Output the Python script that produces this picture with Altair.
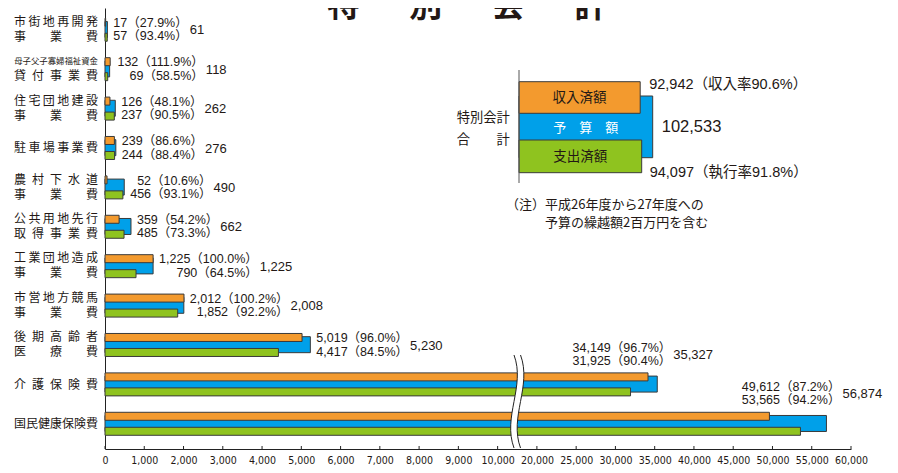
import altair as alt
import pandas as pd

# ---------------- data ----------------
categories = ["市街地再開発事業費", "母子父子寡婦福祉資金貸付事業費", "住宅団地建設事業費", "駐車場事業費",
              "農村下水道事業費", "公共用地先行取得事業費", "工業団地造成事業費", "市営地方競馬事業費",
              "後期高齢者医療費", "介護保険費", "国民健康保険費"]
income = [17, 132, 126, 239, 52, 359, 1225, 2012, 5019, 34149, 49612]
income_rate = [27.9, 111.9, 48.1, 86.6, 10.6, 54.2, 100.0, 100.2, 96.0, 96.7, 87.2]
budget = [61, 118, 262, 276, 490, 662, 1225, 2008, 5230, 35327, 56874]
expense = [57, 69, 237, 244, 456, 485, 790, 1852, 4417, 31925, 53565]
expense_rate = [93.4, 58.5, 90.5, 88.4, 93.1, 73.3, 64.5, 92.2, 84.5, 90.4, 94.2]

TS, ES, IS = "\u2009", "\u2002", "\u3000"
label_top = [TS.join("市街地再開発"), "母子父子寡婦福祉資金", TS.join("住宅団地建設"), TS.join("駐車場事業費"),
             ES.join("農村下水道"), TS.join("公共用地先行"), TS.join("工業団地造成"), TS.join("市営地方競馬"),
             ES.join("後期高齢者"), ES.join("介護保険費"), "国民健康保険費"]
label_bottom = [(IS * 2).join("事業費"), ES.join("貸付事業費"), (IS * 2).join("事業費"), "",
                (IS * 2).join("事業費"), ES.join("取得事業費"), (IS * 2).join("事業費"), (IS * 2).join("事業費"),
                (IS * 2).join("医療費"), "", ""]
label_top_size = [12, 8.4, 12, 12, 12, 12, 12, 12, 12, 12, 12]

total_keys = ["inc", "bud", "exp"]
total_names = ["収入済額", "予\u3000算\u3000額", "支出済額"]
total_values = [92942, 102533, 94097]
total_rates = ["収入率90.6%", "", "執行率91.8%"]

tick_values = [0, 1000, 2000, 3000, 4000, 5000, 6000, 7000, 8000, 9000, 10000,
               20000, 25000, 30000, 35000, 40000, 45000, 50000, 55000, 60000]

title_text = "特\u3000\u2002別\u3000\u2002会\u3000\u2002計"
note_line1 = "（注）平成26年度から27年度への"
note_line2 = "予算の繰越額2百万円を含む"

# ---------------- layout / style ----------------
W, H = 746, 441
K = W / 19000.0
ORANGE, BLUE, GREEN = "#F39A2E", "#00A0E9", "#8FC31F"
EDGE = "#3a3a3a"
TXT = "#231815"
JP = "Noto Sans CJK JP"
NUM = "Liberation Sans, Arial, Noto Sans CJK JP"
AXF = "Liberation Sans Narrow, Arial Narrow, DejaVu Sans Condensed, Liberation Sans"


def disp(v):
    return v if v <= 10000 else 11000 + (v - 20000) / 5


def brk(f):
    return f"datum.{f} <= 10000 ? datum.{f} : 11000 + (datum.{f} - 20000) / 5"


AR = {c: 0.556 for c in "0123456789"}
AR.update({",": 0.278, ".": 0.278, "%": 0.889})


def tw(s, fs):
    return sum(AR.get(c, 1.0) for c in s) * fs


FS = 12.5
line_inc = [f"{v:,}（{r:.1f}%）" for v, r in zip(income, income_rate)]
line_exp = [f"{v:,}（{r:.1f}%）" for v, r in zip(expense, expense_rate)]
big = [1 if b > 10000 else 0 for b in budget]
anchor = []
for b, l1, l2, g in zip(budget, line_inc, line_exp, big):
    if g:
        anchor.append(disp(b) + 14 / K)
    else:
        anchor.append(disp(b) + (6 + max(tw(l1, FS), tw(l2, FS))) / K)

df = pd.DataFrame({
    "cat": categories, "inc": income, "bud": budget, "exp": expense,
    "l1": label_top, "l2": label_bottom, "fs1": label_top_size,
    "line_inc": line_inc, "line_exp": line_exp,
    "bud_txt": [f"{v:,}" for v in budget], "anchor": anchor, "big": big,
})

xs = alt.Scale(domain=[0, 19000], nice=False, zero=True)
ys = alt.Scale(domain=categories, paddingInner=0, paddingOuter=0.0964, align=0.3)
ls = alt.Scale(domain=[0, 102533], range=[414, 547.7], nice=False, zero=True)

yaxis = alt.Axis(labels=False, ticks=False, title=None, domain=True, domainColor="#222",
                 domainWidth=1, grid=False)
yenc = alt.Y("cat:N", scale=ys, axis=yaxis)

xaxis = alt.Axis(values=[disp(v) for v in tick_values],
                 labelExpr="datum.value <= 10000 ? format(datum.value, ',') : format(20000 + (datum.value - 11000) * 5, ',')",
                 ticks=False, title=None, grid=False, domain=True, domainColor="#222", domainWidth=1,
                 labelFont=AXF, labelFontSize=10.5, labelColor=TXT, labelPadding=6,
                 labelOverlap=False, labelFlush=False)

base = alt.Chart(df).transform_calculate(inc_d=brk("inc"), bud_d=brk("bud"), exp_d=brk("exp"))

blue_bar = base.mark_bar(height=16, yOffset=-0.5, color=BLUE, stroke=EDGE, strokeWidth=1).encode(
    x=alt.X("bud_d:Q", scale=xs, axis=None), y=yenc)
orange_bar = base.mark_bar(height=8, yOffset=-7.7, color=ORANGE, stroke=EDGE, strokeWidth=1).encode(
    x=alt.X("inc_d:Q", scale=xs, axis=xaxis), y=yenc)
green_bar = base.mark_bar(height=8, yOffset=7.3, color=GREEN, stroke=EDGE, strokeWidth=1).encode(
    x=alt.X("exp_d:Q", scale=xs, axis=None), y=yenc)

# axis break symbol
one = pd.DataFrame({"k": [0]})
FILL_PATH = "M-0.07,-1 C0.18,-0.33 -0.32,0.33 -0.07,1 L0.07,1 C-0.18,0.33 0.32,-0.33 0.07,-1 Z"
LINE_PATH = "M-0.07,-1 C0.18,-0.33 -0.32,0.33 -0.07,1 M0.07,-1 C0.32,-0.33 -0.18,0.33 0.07,1"
brk_x = alt.XDatum(10500, type="quantitative", scale=xs, axis=None)
brk_fill = alt.Chart(one).mark_point(shape=FILL_PATH, filled=True, color="white", strokeWidth=0,
                                     opacity=1, size=8649).encode(x=brk_x, y=alt.value(393.5))
brk_line = alt.Chart(one).mark_point(shape=LINE_PATH, filled=False, color="#222", strokeWidth=1,
                                     opacity=1, size=8649).encode(x=brk_x, y=alt.value(393.5))

# inward ticks
ticks = alt.Chart(pd.DataFrame({"t": tick_values})).transform_calculate(d=brk("t")).mark_rule(
    color="#222", strokeWidth=1).encode(x=alt.X("d:Q", scale=xs, axis=None), y=alt.value(H - 3), y2=alt.value(H))

# category labels
lab_top = alt.Chart(df).transform_filter("datum.l2 != ''").mark_text(
    align="right", baseline="middle", dy=-8, font=JP, color=TXT).encode(
    x=alt.value(-7), y=yenc, text="l1:N", size=alt.Size("fs1:Q", scale=None, legend=None))
lab_bot = alt.Chart(df).transform_filter("datum.l2 != ''").mark_text(
    align="right", baseline="middle", dy=7, font=JP, fontSize=12, color=TXT).encode(
    x=alt.value(-7), y=yenc, text="l2:N")
lab_one = alt.Chart(df).transform_filter("datum.l2 == ''").mark_text(
    align="right", baseline="middle", dy=0, font=JP, fontSize=12, color=TXT).encode(
    x=alt.value(-7), y=yenc, text="l1:N")


def vtext(flag, field, dy, align, dx=0, size=FS):
    return alt.Chart(df).transform_filter(f"datum.big == {flag}").mark_text(
        align=align, baseline="middle", dx=dx, dy=dy, font=NUM, fontSize=size, color=TXT).encode(
        x=alt.X("anchor:Q", scale=xs, axis=None), y=yenc, text=f"{field}:N")


value_layers = [
    vtext(0, "line_inc", -7, "right"), vtext(0, "line_exp", 6.5, "right"), vtext(0, "bud_txt", 0.5, "left", 2, 13),
    vtext(1, "line_inc", -37, "right"), vtext(1, "line_exp", -23.5, "right"), vtext(1, "bud_txt", -30, "left", 2, 13),
]

# totals box
ldf = pd.DataFrame({"key": total_keys, "name": total_names, "value": total_values, "rate": total_rates})
ldf["side"] = [f"{v:,}（{r}）" if r else f"{v:,}" for v, r in zip(total_values, total_rates)]
lbase = alt.Chart(ldf).transform_calculate(mid="datum.value / 2")


def leg_bar(key, color, y1, y2):
    return lbase.transform_filter(f"datum.key == '{key}'").mark_bar(color=color, stroke=EDGE, strokeWidth=1).encode(
        x=alt.X("value:Q", scale=ls, axis=None), x2=alt.X2Datum(0), y=alt.value(y1), y2=alt.value(y2))


def leg_in(key, y, color, size):
    return lbase.transform_filter(f"datum.key == '{key}'").mark_text(
        align="center", baseline="middle", font=JP, fontSize=size, color=color).encode(
        x=alt.X("mid:Q", scale=ls, axis=None), y=alt.value(y), text="name:N")


def leg_side(key, y, size, dx):
    return lbase.transform_filter(f"datum.key == '{key}'").mark_text(
        align="left", baseline="middle", dx=dx, font=NUM, fontSize=size, color=TXT).encode(
        x=alt.X("value:Q", scale=ls, axis=None), y=alt.value(y), text="side:N")


leg_line = alt.Chart(one).mark_rule(color="#555", strokeWidth=1).encode(
    x=alt.XDatum(0, type="quantitative", scale=ls, axis=None), y=alt.value(62), y2=alt.value(175))

legend_layers = [
    leg_bar("bud", BLUE, 88, 149.7), leg_bar("inc", ORANGE, 73.7, 105.3), leg_bar("exp", GREEN, 132, 164.7),
    leg_line,
    leg_in("inc", 90.3, TXT, 13.5), leg_in("bud", 120.3, "white", 13), leg_in("exp", 148.7, TXT, 13.5),
    leg_side("inc", 77, 14.5, 9), leg_side("bud", 118.7, 16.5, 9), leg_side("exp", 165.3, 14.5, 8),
]

text_df = pd.DataFrame({"a": ["特別会計"], "b": ["合\u3000\u3000計"], "t": [title_text],
                        "n1": [note_line1], "n2": [note_line2]})
tb = alt.Chart(text_df)
box_t1 = tb.mark_text(align="left", baseline="middle", font=JP, fontSize=13.3, color=TXT).encode(
    x=alt.value(351.7), y=alt.value(110.3), text="a:N")
box_t2 = tb.mark_text(align="left", baseline="middle", font=JP, fontSize=13.3, color=TXT).encode(
    x=alt.value(351.7), y=alt.value(132), text="b:N")
title = tb.mark_text(align="center", baseline="alphabetic", font=JP, fontSize=33, fontWeight="bold",
                     color=TXT).encode(x=alt.value(362), y=alt.value(8.5), text="t:N")
note1 = tb.mark_text(align="left", baseline="middle", font=JP, fontSize=13, color=TXT).encode(
    x=alt.value(401), y=alt.value(197), text="n1:N")
note2 = tb.mark_text(align="left", baseline="middle", font=JP, fontSize=13, color=TXT).encode(
    x=alt.value(440), y=alt.value(215), text="n2:N")

chart = alt.layer(
    blue_bar, orange_bar, green_bar, brk_fill, brk_line, ticks,
    lab_top, lab_bot, lab_one, *value_layers, *legend_layers,
    box_t1, box_t2, title, note1, note2,
).properties(
    width=W, height=H,
    padding={"left": 97, "top": 0, "right": 39, "bottom": 16},
    autosize=alt.AutoSizeParams(type="none"),
    background="white",
).resolve_scale(x="independent").configure_view(strokeWidth=0)

chart.save("out.html", embed_options={"renderer": "svg", "actions": False})
